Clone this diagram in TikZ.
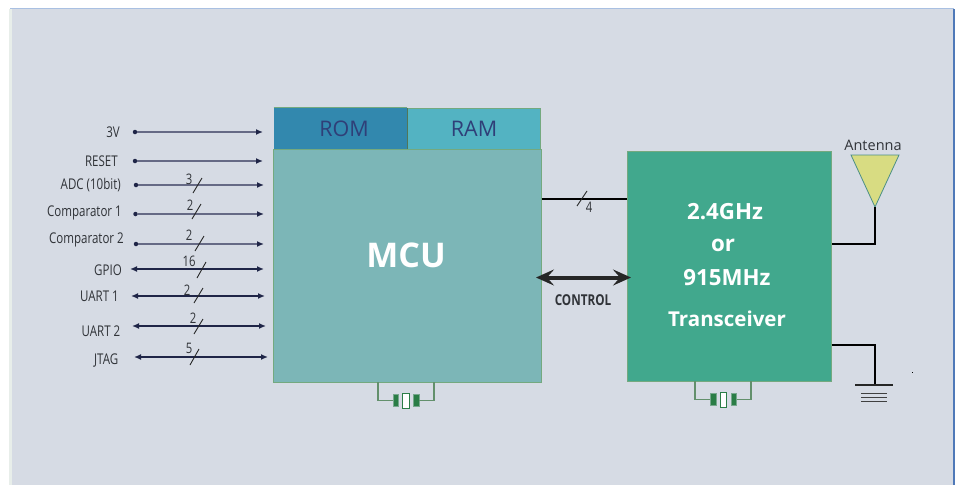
\documentclass[tikz,border=0pt]{standalone}
\usepackage{fontspec}
\setmainfont{Open Sans}
\newfontfamily\narrowfont[FakeStretch=0.78]{Open Sans}
\usepackage{tikz}
\usetikzlibrary{positioning, arrows.meta}
\definecolor{panelbg}{HTML}{D6DBE4}
\definecolor{paneltop}{HTML}{A9C0E2}
\definecolor{panelleft}{HTML}{E8EEEA}
\definecolor{panelright}{HTML}{4F79B8}
\definecolor{romfill}{HTML}{3288AE}
\definecolor{ramfill}{HTML}{53B3C2}
\definecolor{mcufill}{HTML}{7CB6B7}
\definecolor{rffill}{HTML}{41A88D}
\definecolor{edgegreen}{HTML}{74A97F}
\definecolor{memtext}{HTML}{2F3F78}
\definecolor{siggrey}{HTML}{666A85}
\definecolor{sigdark}{HTML}{1F2547}
\definecolor{antfill}{HTML}{D8DC82}
\definecolor{antedge}{HTML}{4C8F86}
\definecolor{platefill}{HTML}{2A7D46}
\definecolor{textgrey}{HTML}{303338}

\begin{document}
\begin{tikzpicture}[x=1pt, y=-1pt,
  block node/.style={draw=edgegreen, line width=1pt, inner sep=0pt, anchor=north west},
  mem node/.style={block node, minimum width=133pt, minimum height=41pt, text=memtext, font=\fontsize{21.5}{21.5}\selectfont},
  white node/.style={text=white, inner sep=0pt, font=\fontsize{20.5}{20.5}\selectfont\bfseries},
  wide node/.style={white node, font=\fontsize{22.3}{22.3}\selectfont\bfseries},
  sig node/.style={anchor=east, inner sep=0pt, text=textgrey, font=\narrowfont\fontsize{14.8}{14.8}\selectfont},
  num node/.style={inner sep=0pt, text=textgrey, font=\narrowfont\fontsize{14.5}{14.5}\selectfont},
  dot node/.style={circle, fill=sigdark, inner sep=0pt, minimum size=4.5pt},
  sig in/.style={draw=siggrey, line width=1.4pt, -{Latex[length=7pt,width=6pt,color=sigdark]}},
  sig both/.style={draw=sigdark, line width=1.4pt, {Latex[length=7pt,width=6pt]}-{Latex[length=7pt,width=6pt]}},
  bus tick/.style={draw=black!85, line width=0.9pt},
  heavy wire/.style={draw=black, line width=2.8pt},
  xtal wire/.style={draw=edgegreen!85!black, line width=1.4pt},
  xtal plate/.style={fill=platefill, draw=platefill!55!panelbg, line width=0.6pt, minimum width=5.5pt, minimum height=12.5pt, inner sep=0pt},
  xtal core/.style={fill=white, draw=platefill, line width=0.9pt, minimum width=6.5pt, minimum height=15pt, inner sep=0pt}]

\useasboundingbox (0,0) rectangle (960,485);
\fill[panelbg] (10,9) rectangle (953,485);
\fill[paneltop] (10,8) rectangle (954,9);
\fill[panelleft] (9,9) rectangle (12,485);
\fill[panelright] (953,9) rectangle (954.5,485);

% memory and processor
\node[mem node, fill=romfill, draw=none] (rom) at (273.5,107.5) {\hspace*{7pt}ROM};
\node[mem node, fill=ramfill] (ram) at (407,107.5) {RAM};
\draw[draw=edgegreen!70!black, line width=1pt] (ram.north west) -- (ram.south west);
\draw[draw=edgegreen, line width=1pt] (rom.north west) -- (ram.north west);
\node[block node, fill=mcufill, minimum width=268pt, minimum height=233pt] (mcu) at (272.5,148.5) {};
\node[white node, font=\fontsize{34}{34}\selectfont\bfseries] (mcutext) at (406,255) {MCU};

% radio
\node[block node, fill=rffill, minimum width=204pt, minimum height=230pt] (rf) at (626.5,150.5) {};
\node[wide node] (band) at (725,212) {2.4GHz};
\node[wide node] (ortext) at (723,245) {or};
\node[wide node] (freq) at (727,278) {915MHz};
\node[white node] (xcvr) at (727,319) {Transceiver};

% signals on the left
\node[sig node] (pwr) at (120,132) {3V};
\node[dot node] (pwrdot) at (135,132) {};
\coordinate (pwrend) at (263,132);
\draw[sig in] (pwrdot) -- (pwrend);

\node[sig node] (reset) at (118,161) {RESET};
\node[dot node] (resetdot) at (135,161) {};
\coordinate (resetend) at (263,161);
\draw[sig in] (resetdot) -- (resetend);

\node[sig node] (adc) at (121,185) {ADC (10bit)};
\node[dot node] (adcdot) at (136,185) {};
\coordinate (adcend) at (264,185);
\draw[sig in] (adcdot) -- (adcend);
\draw[bus tick] (193,193) -- ++(9,-15);
\node[num node] (adcnum) at (189,179) {3};

\node[sig node] (cmpa) at (122,213) {Comparator 1};
\node[dot node] (cmpadot) at (135.5,214) {};
\coordinate (cmpaend) at (264,214);
\draw[sig in] (cmpadot) -- (cmpaend);
\draw[bus tick] (192,219) -- ++(9,-15);
\node[num node] (cmpanum) at (190,205) {2};

\node[sig node] (cmpb) at (124,240) {Comparator 2};
\node[dot node] (cmpbdot) at (136,244) {};
\coordinate (cmpbend) at (264,244);
\draw[sig in] (cmpbdot) -- (cmpbend);
\draw[bus tick] (195,251) -- ++(9,-15);
\node[num node] (cmpbnum) at (189,235) {2};

\node[sig node] (gpio) at (122,270) {GPIO};
\coordinate (gpiostart) at (130,269);
\coordinate (gpioend) at (264,269);
\draw[sig both] (gpiostart) -- (gpioend);
\draw[bus tick] (197,278) -- ++(9,-16);
\node[num node] (gpionum) at (189,261) {16};

\node[sig node] (uarta) at (119,296) {UART 1};
\coordinate (uartastart) at (131,296);
\coordinate (uartaend) at (265,296);
\draw[sig both] (uartastart) -- (uartaend);
\draw[bus tick] (194,303) -- ++(9,-15);
\node[num node] (uartanum) at (187,290) {2};

\node[sig node] (uartb) at (120.5,331) {UART 2};
\coordinate (uartbstart) at (132,326);
\coordinate (uartbend) at (266,326);
\draw[sig both] (uartbstart) -- (uartbend);
\draw[bus tick] (194,334) -- ++(9,-15);
\node[num node] (uartbnum) at (193,318) {2};

\node[sig node] (jtag) at (118.5,361) {JTAG};
\coordinate (jtagstart) at (134,357);
\coordinate (jtagend) at (268,357);
\draw[sig both] (jtagstart) -- (jtagend);
\draw[bus tick] (190,365) -- ++(9,-16);
\node[num node] (jtagnum) at (189,348) {5};

% links between the blocks
\coordinate (spia) at (mcu.east |- 0,199);
\coordinate (spib) at (rf.west |- 0,199);
\draw[heavy wire] (spia) -- (spib);
\draw[bus tick] (577,206) -- ++(10,-15);
\node[num node] (spinum) at (589,207) {4};

\coordinate (ctla) at (536,277.5);
\coordinate (ctlb) at (631,277.5);
\draw[line width=4pt, draw=black!85, {Stealth[length=18pt,width=16pt,inset=7pt]}-{Stealth[length=18pt,width=16pt,inset=7pt]}] (ctla) -- (ctlb);
\node[num node, font=\narrowfont\fontsize{15}{15}\selectfont\bfseries] (ctltext) at (583,300) {CONTROL};

% antenna and ground
\node[inner sep=0pt, text=textgrey, font=\fontsize{14.5}{14.5}\selectfont] (anttext) at (873,145) {Antenna};
\coordinate (anta) at (851,155);
\coordinate (antb) at (899,155);
\coordinate (antc) at (875,207);
\draw[draw=antedge, fill=antfill, line width=0.8pt] (anta) -- (antb) -- (antc) -- cycle;
\coordinate (rfant) at (rf.east |- 0,244);
\draw[heavy wire] (antc) -- (875,244) -- (rfant);

\coordinate (rfgnd) at (rf.east |- 0,345);
\coordinate (gndtop) at (875,385);
\draw[heavy wire] (rfgnd) -- (875,345) -- (gndtop);
\draw[draw=black!85, line width=2pt] (855,385) -- (893,385);
\draw[draw=black!75, line width=1pt] (861,393) -- (887,393);
\draw[draw=black!75, line width=1pt] (861,397) -- (887,397);
\draw[draw=black!75, line width=1pt] (861,401) -- (887,401);
\fill[black] (911.5,371.5) rectangle (912.5,372.5);

% crystals
\node[xtal core] (mcuxc) at (405.8,400.5) {};
\node[xtal plate, left=3.5pt of mcuxc] (mcuxl) {};
\node[xtal plate, right=3.5pt of mcuxc] (mcuxr) {};
\draw[xtal wire] (mcuxl) -| (378,382);
\draw[xtal wire] (mcuxr) -| (434,382);

\node[xtal core] (rfxc) at (723.5,399.5) {};
\node[xtal plate, left=3.5pt of rfxc] (rfxl) {};
\node[xtal plate, right=3.5pt of rfxc] (rfxr) {};
\draw[xtal wire] (rfxl) -| (695,381);
\draw[xtal wire] (rfxr) -| (751,381);

\end{tikzpicture}
\end{document}
